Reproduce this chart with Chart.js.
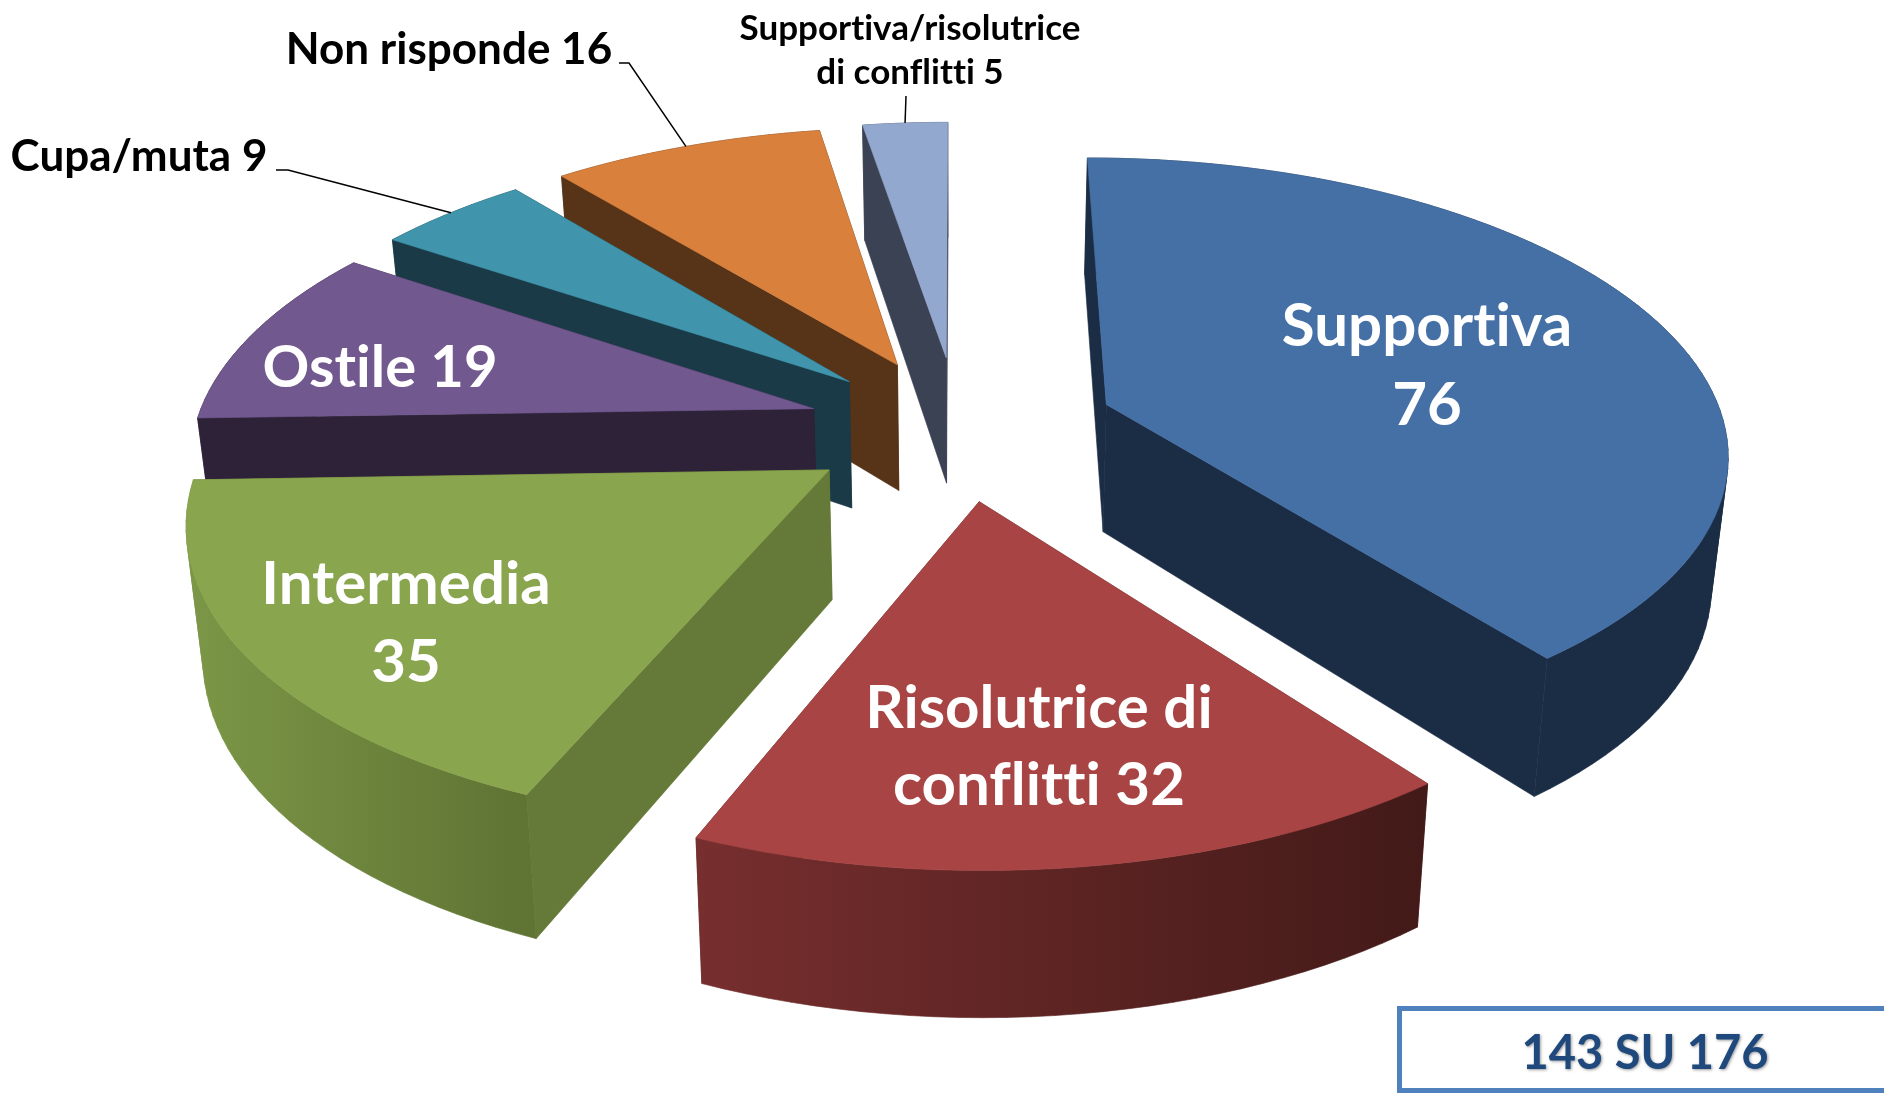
<!DOCTYPE html>
<html>
<head>
<meta charset="utf-8">
<title>143 SU 176</title>
<script src="https://cdn.jsdelivr.net/npm/chart.js@4"></script>
<style>
    html, body { margin: 0; padding: 0; background: #fff; overflow: hidden; }
    canvas { display: block; }
</style>
</head>
<body>
<canvas id="pie" width="1884" height="1094"></canvas>
<script>
const categories = ['Supportiva', 'Risolutrice di conflitti', 'Intermedia', 'Ostile', 'Cupa/muta', 'Non risponde', 'Supportiva/risolutrice di conflitti'];
const values = [76, 32, 35, 19, 9, 16, 5];
const boxText = '143 SU 176';

// slice styling, same order as categories
const topColors = ['#4570a6', '#a84444', '#89a54e', '#71588f', '#4095ad', '#d9803c', '#93a8cf'];
const wallColors = ['#1b2c45', '#5a2324', '#657a38', '#2d2238', '#1a3a47', '#573317', '#3b4254'];
const rimColors = [['#1b2c45', '#1b2c45'], ['#772e2e', '#421a18'], ['#7c9747', '#5f7333'], ['#2d2238', '#2d2238'], ['#1a3a47', '#1a3a47'], ['#573317', '#573317'], ['#3b4254', '#3b4254']];
const explode = [158, 153, 154, 152, 151, 153, 156];
const paintOrder = [6, 5, 4, 3, 2, 1, 0];

// perspective of the pie plane
const view = { cx: 958.5, cy: 428, depth: 1950, k: 0.00024, radius: 619 };
// the underside is the top face scaled towards this point
const under = { vx: 961, sx: 0.978, sy: 1.0427, dy: 110 };

const labelStyle = [
    { breakAt: 1, x: 1427, y: 346, lh: 79, size: 60, color: '#fff' },
    { breakAt: 2, x: 1039, y: 728, lh: 77, size: 60, color: '#fff' },
    { breakAt: 1, x: 406, y: 604, lh: 78, size: 60, color: '#fff' },
    { breakAt: 0, x: 380, y: 387, lh: 0, size: 58, color: '#fff' },
    { breakAt: 0, x: 139, y: 171, lh: 0, size: 44, color: '#000', leader: [[276, 170], [288, 170]] },
    { breakAt: 0, x: 449, y: 64, lh: 0, size: 44, color: '#000', leader: [[619, 63], [629, 63]] },
    { breakAt: 1, x: 910, y: 40, lh: 44, size: 35, color: '#000', leader: [[906, 96]] }
];

function project(x, y) {
    const t = 1 / (1 - view.k * y);
    return { x: view.cx + x * t, y: view.cy - view.depth + view.depth * t };
}

function lower(p) {
    return { x: under.vx + (p.x - under.vx) * under.sx, y: p.y * under.sy + under.dy };
}

function tracePoly(ctx, points) {
    points.forEach((p, i) => (i ? ctx.lineTo(p.x, p.y) : ctx.moveTo(p.x, p.y)));
    ctx.closePath();
}

function paintPath(ctx, fill) {
    ctx.fillStyle = fill;
    ctx.strokeStyle = fill;
    ctx.lineWidth = 0.6;
    ctx.fill();
    ctx.stroke();
}

function fillPoly(ctx, points, fill) {
    ctx.beginPath();
    tracePoly(ctx, points);
    paintPath(ctx, fill);
}

function signedArea(points) {
    return points.reduce((sum, p, i) => {
        const q = points[(i + 1) % points.length];
        return sum + p.x * q.y - q.x * p.y;
    }, 0);
}

// outer wall as a union of same-winding quads, so no seams show between them
function fillRim(ctx, rim, fill) {
    ctx.beginPath();
    for (let s = 0; s < rim.length - 1; s++) {
        const quad = [rim[s], rim[s + 1], lower(rim[s + 1]), lower(rim[s])];
        tracePoly(ctx, signedArea(quad) < 0 ? quad.reverse() : quad);
    }
    paintPath(ctx, fill);
}

// tip and rim outline of one arc element, in screen pixels
function sliceOutline(arc) {
    const mid = (arc.startAngle + arc.endAngle) / 2;
    const ox = Math.cos(mid) * arc.options.offset;
    const oy = Math.sin(mid) * arc.options.offset;
    const steps = Math.max(4, Math.ceil((arc.endAngle - arc.startAngle) * 30));
    const rim = [];
    for (let i = 0; i <= steps; i++) {
        const a = arc.startAngle + (arc.endAngle - arc.startAngle) * i / steps;
        rim.push(project(ox + Math.cos(a) * view.radius, oy + Math.sin(a) * view.radius));
    }
    const rimMid = project(ox + Math.cos(mid) * view.radius, oy + Math.sin(mid) * view.radius);
    return { tip: project(ox, oy), rim, rimMid };
}

const pie3d = {
    id: 'pie3d',
    beforeDatasetDraw(chart) {
        const { ctx } = chart;
        const arcs = chart.getDatasetMeta(0).data;
        paintOrder.forEach(i => {
            const { tip, rim } = sliceOutline(arcs[i]);
            const first = rim[0];
            const last = rim[rim.length - 1];
            fillPoly(ctx, [tip, first, lower(first), lower(tip)], wallColors[i]);
            fillPoly(ctx, [tip, last, lower(last), lower(tip)], wallColors[i]);
            const xs = rim.map(p => p.x);
            const shade = ctx.createLinearGradient(Math.min(...xs), 0, Math.max(...xs), 0);
            shade.addColorStop(0, rimColors[i][0]);
            shade.addColorStop(1, rimColors[i][1]);
            fillRim(ctx, rim, shade);
            fillPoly(ctx, [tip, ...rim], topColors[i]);
        });
        return false;
    },
    afterDraw(chart) {
        const { ctx } = chart;
        const arcs = chart.getDatasetMeta(0).data;
        ctx.save();
        ctx.textAlign = 'center';
        ctx.textBaseline = 'alphabetic';
        ctx.letterSpacing = '0.01px'; // keeps Lato from joining tt and ti
        categories.forEach((name, i) => {
            const st = labelStyle[i];
            const words = `${name} ${values[i]}`.split(' ');
            const lines = st.breakAt ? [words.slice(0, st.breakAt).join(' '), words.slice(st.breakAt).join(' ')] : [words.join(' ')];
            ctx.font = `bold ${st.size}px Lato`;
            ctx.fillStyle = st.color;
            lines.forEach((line, l) => ctx.fillText(line, st.x, st.y + l * st.lh));
            if (st.leader) {
                const end = sliceOutline(arcs[i]).rimMid;
                ctx.beginPath();
                st.leader.forEach((p, n) => (n ? ctx.lineTo(p[0], p[1]) : ctx.moveTo(p[0], p[1])));
                ctx.lineTo(end.x, end.y);
                ctx.strokeStyle = '#000';
                ctx.lineWidth = 1.5;
                ctx.stroke();
            }
        });

        // count box, runs off the right edge of the slide
        ctx.strokeStyle = '#4f81bd';
        ctx.lineWidth = 5;
        ctx.strokeRect(1399.5, 1008.5, 520, 82);
        ctx.font = 'bold 47px Lato';
        ctx.fillStyle = '#1f497d';
        ctx.shadowColor = 'rgba(0,0,0,0.4)';
        ctx.shadowBlur = 3;
        ctx.shadowOffsetX = 1;
        ctx.shadowOffsetY = 1;
        ctx.fillText(boxText, 1645, 1069);
        ctx.restore();
    }
};

document.fonts.load('bold 48px Lato').finally(() => {
    new Chart(document.getElementById('pie'), {
        type: 'pie',
        data: {
            labels: categories,
            datasets: [{ data: values, backgroundColor: topColors, offset: explode, borderWidth: 0 }]
        },
        options: {
            responsive: false,
            animation: false,
            plugins: { legend: { display: false }, tooltip: { enabled: false } }
        },
        plugins: [pie3d]
    });
});
</script>
</body>
</html>
